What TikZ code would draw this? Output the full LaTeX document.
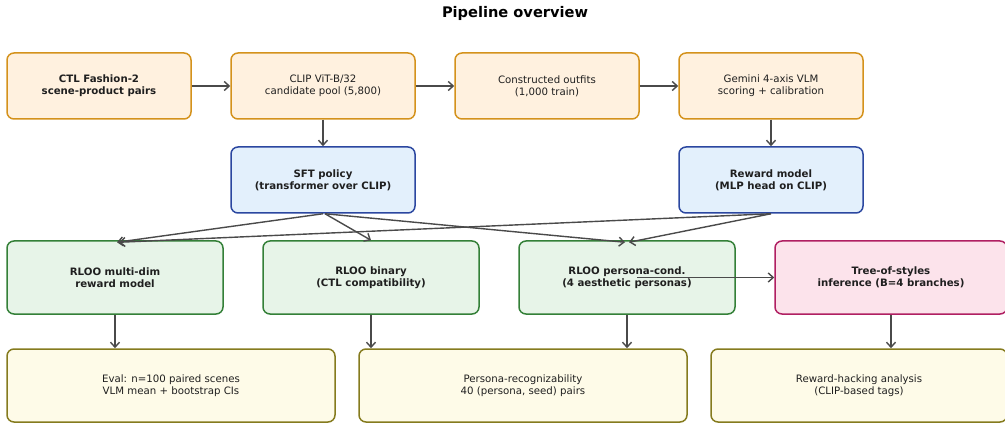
\documentclass[tikz,border=0pt]{standalone}
\usepackage{fontspec}
\setmainfont{DejaVu Sans}
\usetikzlibrary{arrows.meta}
\definecolor{srcfill}{HTML}{FFF1DF}
\definecolor{srcdraw}{HTML}{D4921C}
\definecolor{modfill}{HTML}{E3F0FC}
\definecolor{moddraw}{HTML}{2B47A0}
\definecolor{rlfill}{HTML}{E7F4E8}
\definecolor{rldraw}{HTML}{348038}
\definecolor{inffill}{HTML}{FCE3EB}
\definecolor{infdraw}{HTML}{B01F62}
\definecolor{evfill}{HTML}{FEFBE8}
\definecolor{evdraw}{HTML}{857B1E}
\definecolor{arrowgray}{HTML}{4A4A4A}
\tikzset{
  box/.style={draw, rounded corners=7pt, line width=1.5pt, align=center, inner sep=0pt,
    font=\fontsize{10.2}{12.2}\selectfont, text=black!88},
  srcbox/.style={box, draw=srcdraw, fill=srcfill, minimum width=184pt, minimum height=66pt},
  modbox/.style={box, draw=moddraw, fill=modfill, minimum width=184pt, minimum height=66pt, font=\fontsize{10.2}{12.2}\selectfont\bfseries},
  rlbox/.style={box, draw=rldraw, fill=rlfill, minimum width=216pt, minimum height=73pt, font=\fontsize{10.2}{12.2}\selectfont\bfseries},
  infbox/.style={box, draw=infdraw, fill=inffill, minimum width=232pt, minimum height=73pt, font=\fontsize{10.2}{12.2}\selectfont\bfseries},
  evbox/.style={box, draw=evdraw, fill=evfill, minimum width=328pt, minimum height=73pt},
  flow/.style={draw=arrowgray, line width=1.4pt, -{Straight Barb[length=5pt,width=9pt,line width=1.4pt]}}
}
\begin{document}
\begin{tikzpicture}[x=1pt, y=-1pt]
\useasboundingbox (0,0) rectangle (1005,425);
\draw (515,13) node[font=\fontsize{14.6}{16}\selectfont\bfseries] (title) {Pipeline overview};
% data side
\draw (99,86) node[srcbox, font=\fontsize{10.2}{12.2}\selectfont\bfseries] (ctl) {CTL Fashion-2\\scene-product pairs};
\draw (323,86) node[srcbox] (pool) {CLIP ViT-B/32\\candidate pool (5,800)};
\draw (547,86) node[srcbox] (outfits) {Constructed outfits\\(1,000 train)};
\draw (771,86) node[srcbox] (gemini) {Gemini 4-axis VLM\\scoring + calibration};
% models
\draw (323,180) node[modbox] (sft) {SFT policy\\(transformer over CLIP)};
\draw (771,180) node[modbox] (reward) {Reward model\\(MLP head on CLIP)};
% RL variants
\draw (115,277.5) node[rlbox] (multi) {RLOO multi-dim\\reward model};
\draw (371,277.5) node[rlbox] (binary) {RLOO binary\\(CTL compatibility)};
\draw (627,277.5) node[rlbox] (persona) {RLOO persona-cond.\\(4 aesthetic personas)};
\draw (891,277.5) node[infbox] (tree) {Tree-of-styles\\inference (B=4 branches)};
% evaluation
\draw (171,385.5) node[evbox] (eval) {Eval: n=100 paired scenes\\VLM mean + bootstrap CIs};
\draw (523,385.5) node[evbox] (recog) {Persona-recognizability\\40 (persona, seed) pairs};
\draw (859,385.5) node[evbox, minimum width=296pt] (hack) {Reward-hacking analysis\\(CLIP-based tags)};
\draw [flow] (ctl)--(pool);
\draw [flow] (pool)--(outfits);
\draw [flow] (outfits)--(gemini);
\draw [flow] (pool)--(sft);
\draw [flow] (gemini)--(reward);
\draw [flow] (sft.south)--([xshift=2pt,yshift=-2pt]multi.north);
\draw [flow] ([xshift=2pt]sft.south)--(binary.north);
\draw [flow] ([xshift=2pt]sft.south)--([xshift=-2pt,yshift=-2pt]persona.north);
\draw [flow] (reward.south)--([xshift=4pt,yshift=-2pt]multi.north);
\draw [flow] (reward.south)--([xshift=2pt,yshift=-2pt]persona.north);
\draw [flow] ([xshift=10pt]persona.center)--(tree.west);
\draw [flow] (multi)--(multi|-eval.north);
\draw [flow] (binary)--(binary|-recog.north);
\draw [flow] (persona)--(persona|-recog.north);
\draw [flow] (tree)--(tree|-hack.north);
\end{tikzpicture}
\end{document}
